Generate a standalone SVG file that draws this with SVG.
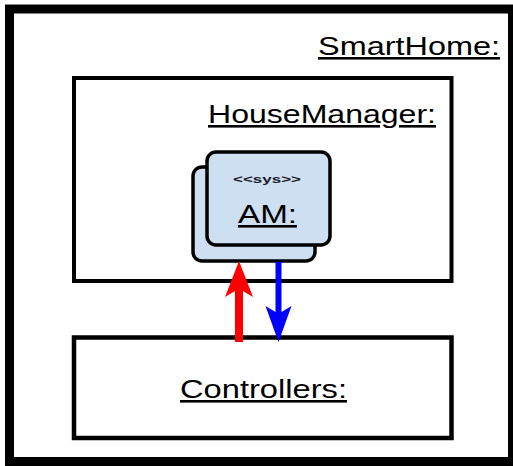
<svg xmlns="http://www.w3.org/2000/svg" width="513" height="466" viewBox="0 0 513 466">
  <style>
    .frame { fill: #ffffff; stroke: #000000; }
    .part { fill: #cddff0; stroke: #000000; stroke-width: 3.5; }
    .label { font-family: "Liberation Sans", Arial, sans-serif; font-size: 26px; fill: #000000; text-decoration: underline; }
    .stereo { font-family: "Liberation Sans", Arial, sans-serif; font-size: 10px; font-weight: bold; fill: #1a1a2a; }
  </style>
  <defs>
    <marker id="headRed" markerUnits="userSpaceOnUse" orient="auto" viewBox="0 -15 36 30" refX="6" refY="0" markerWidth="36" markerHeight="30">
      <path d="M36,0 L0,-14 L6,-4 L6,4 L0,14 Z" fill="#ff0000"/>
    </marker>
    <marker id="headBlue" markerUnits="userSpaceOnUse" orient="auto" viewBox="0 -15 36 30" refX="6" refY="0" markerWidth="36" markerHeight="30">
      <path d="M36,0 L0,-13 L6,-3 L6,3 L0,13 Z" fill="#0000ff"/>
    </marker>
  </defs>

  <rect x="0" y="0" width="513" height="466" fill="#ffffff"/>

  <g id="smarthome">
    <rect class="frame" x="9.5" y="9" width="503" height="452.5" stroke-width="9"/>
    <text class="label" x="318" y="55" textLength="182" lengthAdjust="spacingAndGlyphs">SmartHome:</text>
  </g>

  <g id="housemanager">
    <rect class="frame" x="74" y="78" width="377.5" height="203" stroke-width="4"/>
    <text class="label" x="208" y="123" textLength="228" lengthAdjust="spacingAndGlyphs">HouseManager:</text>
  </g>

  <g id="am">
    <rect class="part" x="193" y="167" width="122" height="94" rx="9" ry="9"/>
    <rect class="part" x="207" y="152" width="123" height="93" rx="9" ry="9"/>
    <text class="stereo" x="233" y="183" textLength="68" lengthAdjust="spacingAndGlyphs">&lt;&lt;sys&gt;&gt;</text>
    <text class="label" x="238" y="223" textLength="59" lengthAdjust="spacingAndGlyphs">AM:</text>
  </g>

  <g id="controllers">
    <rect class="frame" x="74" y="337.5" width="377.5" height="100.5" stroke-width="4.5"/>
    <text class="label" x="180" y="398" textLength="167" lengthAdjust="spacingAndGlyphs">Controllers:</text>
  </g>

  <g id="connectors">
    <line x1="239" y1="342" x2="239" y2="291" stroke="#ff0000" stroke-width="8" marker-end="url(#headRed)"/>
    <line x1="278.5" y1="262" x2="278.5" y2="312" stroke="#0000ff" stroke-width="6" marker-end="url(#headBlue)"/>
  </g>
</svg>
